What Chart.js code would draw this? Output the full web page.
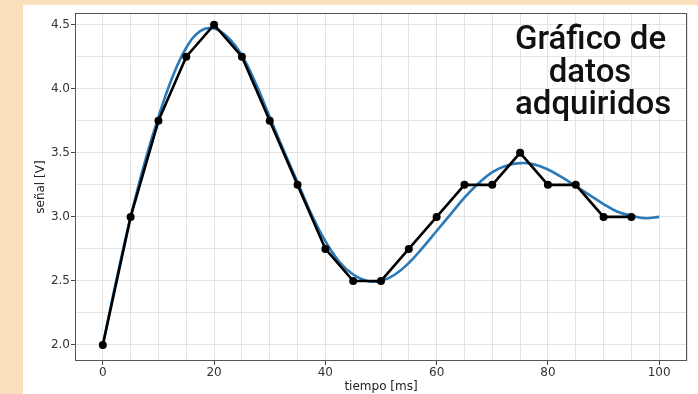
<!DOCTYPE html>
<html lang="es">
<head>
<meta charset="utf-8">
<title>Gráfico de datos adquiridos</title>
<script src="https://cdn.jsdelivr.net/npm/chart.js@4/dist/chart.umd.min.js"></script>
<style>
  html, body { margin: 0; padding: 0; }
  body { width: 698px; height: 394px; background: #f9dfbb; position: relative; overflow: hidden; }
  #panel { position: absolute; left: 23px; top: 5px; width: 675px; height: 389px; background: #ffffff; }
  #chart { position: absolute; left: 0; top: 0; }
  #heading {
    position: absolute; left: 492px; top: 17px; width: 150px;
    font-family: Roboto, "Noto Sans", sans-serif; font-weight: 500; font-size: 33px; line-height: 32.5px;
    color: #111; text-align: center; white-space: nowrap;
  }
</style>
</head>
<body>
<div id="panel">
  <canvas id="chart" width="675" height="389"></canvas>
  <div id="heading">Gráfico de<br>datos<br>adquiridos</div>
</div>
<script>
// Acquired samples (every 5 ms)
const sampleTimes = [0, 5, 10, 15, 20, 25, 30, 35, 40, 45, 50, 55, 60, 65, 70, 75, 80, 85, 90, 95];
const sampleValues = [2.0, 3.0, 3.75, 4.25, 4.5, 4.25, 3.75, 3.25, 2.75, 2.5, 2.5, 2.75, 3.0, 3.25, 3.25, 3.5, 3.25, 3.25, 3.0, 3.0];

// Reference signal (every 2.5 ms)
const signalTimes = [0, 2.5, 5, 7.5, 10, 12.5, 15, 17.5, 20, 22.5, 25, 27.5, 30, 32.5, 35, 37.5, 40,
  42.5, 45, 47.5, 50, 52.5, 55, 57.5, 60, 62.5, 65, 67.5, 70, 72.5, 75, 77.5, 80, 82.5, 85, 87.5,
  90, 92.5, 95, 97.5, 100];
const signalValues = [2.0, 2.52, 3.0, 3.42, 3.78, 4.09, 4.32, 4.45, 4.47, 4.40, 4.26, 4.04, 3.78,
  3.52, 3.27, 3.02, 2.81, 2.65, 2.55, 2.50, 2.50, 2.55, 2.64, 2.76, 2.89, 3.02, 3.15, 3.26, 3.35,
  3.40, 3.42, 3.41, 3.37, 3.31, 3.24, 3.17, 3.10, 3.04, 3.01, 2.99, 3.00];

// Labelled ticks; the grid also has minor lines in between
const xTickLabels = [0, 20, 40, 60, 80, 100];
const yTickLabels = ['2.0', '2.5', '3.0', '3.5', '4.0', '4.5'];
const xGridStep = 5;
const yGridStep = 0.25;

const isLabelled = (list, v) => list.some(t => Math.abs(Number(t) - v) < 1e-9);

const samplePoints = sampleTimes.map((t, i) => ({ x: t, y: sampleValues[i] }));
const signalPoints = signalTimes.map((t, i) => ({ x: t, y: signalValues[i] }));

const gridColor = '#e3e3e3';
const tickMarkColor = '#444';
const textColor = '#333';

// Draws the full frame around the plotting area
const frame = {
  id: 'frame',
  afterDraw(chart) {
    const { ctx, chartArea: a } = chart;
    ctx.save();
    ctx.strokeStyle = '#555';
    ctx.lineWidth = 1;
    ctx.strokeRect(Math.round(a.left) + 0.5, Math.round(a.top) + 0.5,
      Math.round(a.right - a.left) - 1, Math.round(a.bottom - a.top) - 1);
    ctx.restore();
  }
};

new Chart(document.getElementById('chart'), {
  type: 'line',
  data: {
    datasets: [
      {
        label: 'muestras',
        data: samplePoints,
        borderColor: '#000',
        backgroundColor: '#000',
        borderWidth: 2.6,
        pointRadius: 4,
        pointBorderWidth: 0,
        pointBackgroundColor: '#000',
        tension: 0,
        order: 0
      },
      {
        label: 'señal',
        data: signalPoints,
        borderColor: '#2a7ab9',
        borderWidth: 2.6,
        pointRadius: 0,
        tension: 0.4,
        order: 1
      }
    ]
  },
  options: {
    responsive: false,
    animation: false,
    devicePixelRatio: 1,
    layout: { padding: { top: 8, right: 11, left: 0, bottom: 0 } },
    plugins: { legend: { display: false }, tooltip: { enabled: false }, title: { display: false } },
    scales: {
      x: {
        type: 'linear',
        min: -5,
        max: 105,
        afterFit(scale) { scale.height = 33; },
        border: { display: false },
        grid: {
          color: gridColor,
          lineWidth: 1,
          tickLength: 4,
          tickColor: ctx => (ctx.tick && isLabelled(xTickLabels, ctx.tick.value)) ? tickMarkColor : 'rgba(0,0,0,0)'
        },
        ticks: {
          stepSize: xGridStep,
          autoSkip: false,
          maxRotation: 0,
          includeBounds: false,
          padding: 1,
          color: textColor,
          font: { family: 'DejaVu Sans', size: 12 },
          callback: v => isLabelled(xTickLabels, v) ? String(v) : ''
        },
        title: {
          display: true,
          text: 'tiempo [ms]',
          color: '#222',
          font: { family: 'DejaVu Sans', size: 12 },
          padding: { top: 0, bottom: 0 }
        }
      },
      y: {
        type: 'linear',
        min: 1.875,
        max: 4.59,
        afterFit(scale) { scale.width = 52; },
        border: { display: false },
        grid: {
          color: gridColor,
          lineWidth: 1,
          tickLength: 4,
          tickColor: ctx => (ctx.tick && isLabelled(yTickLabels, ctx.tick.value)) ? tickMarkColor : 'rgba(0,0,0,0)'
        },
        ticks: {
          stepSize: yGridStep,
          autoSkip: false,
          includeBounds: false,
          padding: 1,
          color: textColor,
          font: { family: 'DejaVu Sans', size: 12 },
          callback: v => isLabelled(yTickLabels, v) ? Number(v).toFixed(1) : ''
        },
        title: {
          display: true,
          text: 'señal [V]',
          color: '#222',
          font: { family: 'DejaVu Sans', size: 12 },
          padding: { top: 11, bottom: 0 }
        }
      }
    }
  },
  plugins: [frame]
});
</script>
</body>
</html>
